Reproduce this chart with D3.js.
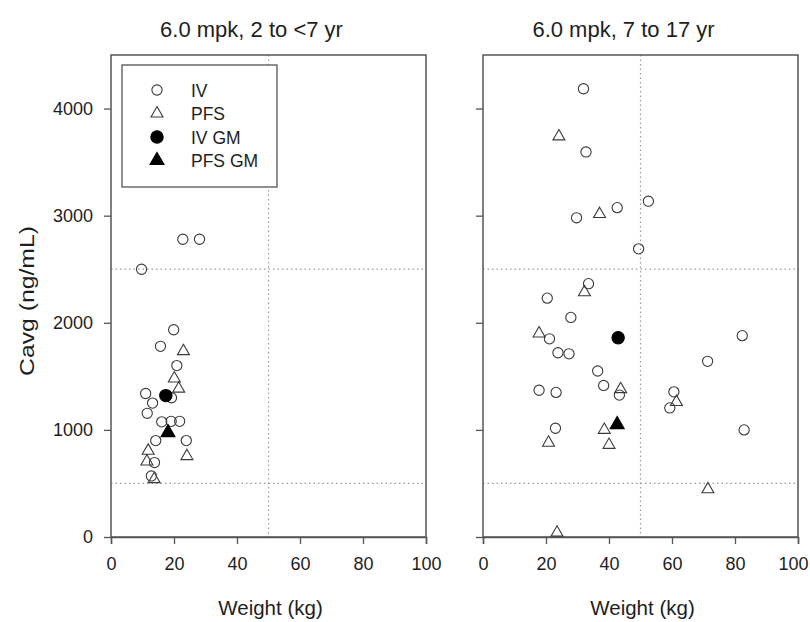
<!DOCTYPE html>
<html>
<head>
<meta charset="utf-8">
<script src="https://cdn.jsdelivr.net/npm/d3@7"></script>
<style>
  body { margin: 0; background: #fff; }
  svg { display: block; font-family: "Liberation Sans", Arial, sans-serif; }
</style>
</head>
<body>
<svg id="chart" width="810" height="622"></svg>
<script>
// Panel titles
const panelTitles = ["6.0 mpk, 2 to <7 yr", "6.0 mpk, 7 to 17 yr"];

// Axis ticks
const xTicks = [0, 20, 40, 60, 80, 100];
const yTicks = [0, 1000, 2000, 3000, 4000];

// Reference lines: weight cut-off and exposure bounds
const refWeight = 50;
const refCavg = [500, 2500];

// 2 to <7 yr: individual subjects [weight kg, Cavg ng/mL]
const ivYoung = [
  [22.8, 2780], [28.1, 2780], [9.7, 2500], [19.9, 1935], [15.7, 1780],
  [20.9, 1600], [11.0, 1340], [13.2, 1250], [11.5, 1155], [16.1, 1075],
  [19.1, 1080], [21.8, 1080], [14.2, 900], [23.9, 900], [13.8, 695],
  [12.8, 570], [19.2, 1300]
];
const pfsYoung = [
  [23.0, 1735], [20.1, 1480], [21.5, 1385], [11.8, 805], [11.4, 705],
  [24.1, 755], [13.7, 540]
];
const ivGmYoung = [[17.4, 1320]];
const pfsGmYoung = [[18.1, 975]];

// 7 to 17 yr: individual subjects [weight kg, Cavg ng/mL]
const ivOld = [
  [31.9, 4185], [32.7, 3595], [29.7, 2980], [42.6, 3075], [52.5, 3135],
  [49.4, 2690], [33.5, 2365], [20.4, 2230], [27.9, 2050], [21.1, 1850],
  [23.8, 1720], [27.3, 1710], [36.4, 1550], [38.3, 1415], [43.3, 1325],
  [17.8, 1370], [23.2, 1350], [23.0, 1015], [60.6, 1355], [59.3, 1205],
  [71.3, 1640], [82.3, 1880], [82.9, 1000]
];
const pfsOld = [
  [24.1, 3740], [37.0, 3015], [32.2, 2285], [17.8, 1900], [43.7, 1380],
  [38.5, 1000], [20.8, 880], [40.0, 860], [23.5, 40], [61.4, 1260],
  [71.4, 445]
];
const ivGmOld = [[42.9, 1860]];
const pfsGmOld = [[42.6, 1050]];

const panels = [
  { title: panelTitles[0], iv: ivYoung, pfs: pfsYoung, ivGm: ivGmYoung, pfsGm: pfsGmYoung, left: 111, showY: true },
  { title: panelTitles[1], iv: ivOld, pfs: pfsOld, ivGm: ivGmOld, pfsGm: pfsGmOld, left: 483, showY: false }
];

const svg = d3.select("#chart");
const plotW = 315, plotTop = 55, plotBottom = 537;
const axisColor = "#555";
const markStroke = "#3a3a3a";
const textColor = "#1e1e1e";

const y = d3.scaleLinear().domain([0, 4500]).range([plotBottom, plotTop]);

const circle = d3.symbol().type(d3.symbolCircle).size(82)();
const tri = d3.symbol().type(d3.symbolTriangle).size(62)();
const circleGm = d3.symbol().type(d3.symbolCircle).size(120)();
const triGm = d3.symbol().type(d3.symbolTriangle).size(85)();

panels.forEach((p, pi) => {
  const x = d3.scaleLinear().domain([0, 100]).range([p.left, p.left + plotW]);
  const g = svg.append("g");

  // reference lines
  g.append("line")
    .attr("x1", x(refWeight)).attr("x2", x(refWeight))
    .attr("y1", plotTop).attr("y2", plotBottom)
    .attr("stroke", "#9a9a9a").attr("stroke-width", 1.2)
    .attr("stroke-dasharray", "1.5,3");
  refCavg.forEach(v => {
    g.append("line")
      .attr("x1", x(0)).attr("x2", x(100))
      .attr("y1", y(v)).attr("y2", y(v))
      .attr("stroke", "#9a9a9a").attr("stroke-width", 1.2)
      .attr("stroke-dasharray", "1.5,3");
  });

  // frame
  g.append("rect")
    .attr("x", x(0)).attr("y", plotTop)
    .attr("width", plotW).attr("height", plotBottom - plotTop)
    .attr("fill", "none").attr("stroke", axisColor).attr("stroke-width", 1.5);

  // x axis
  const xa = g.append("g")
    .attr("transform", `translate(0,${plotBottom})`)
    .call(d3.axisBottom(x).tickValues(xTicks).tickSize(7).tickPadding(13).tickFormat(d3.format("d")));
  xa.select(".domain").attr("stroke", axisColor).attr("stroke-width", 1.5);
  xa.selectAll(".tick line").attr("stroke", axisColor).attr("stroke-width", 1.3);
  xa.selectAll("text").attr("font-size", 18).attr("fill", textColor);
  // keep the last label of the right panel inside the page
  if (pi === panels.length - 1) {
    xa.selectAll(".tick text").filter(d => d === 100).attr("dx", -5);
  }

  // y axis
  const ya = g.append("g")
    .attr("transform", `translate(${x(0)},0)`)
    .call(d3.axisLeft(y).tickValues(yTicks).tickSize(7).tickPadding(11)
      .tickFormat(p.showY ? d3.format("d") : () => ""));
  ya.select(".domain").remove();
  ya.selectAll(".tick line").attr("stroke", axisColor).attr("stroke-width", 1.3);
  ya.selectAll("text").attr("font-size", 18).attr("fill", textColor);

  // title
  g.append("text")
    .attr("x", x(50) - 17).attr("y", 37)
    .attr("text-anchor", "middle").attr("font-size", 22).attr("fill", textColor)
    .text(p.title);

  // x label
  g.append("text")
    .attr("x", x(50) + 2).attr("y", 615)
    .attr("text-anchor", "middle").attr("font-size", 20.5).attr("fill", textColor)
    .text("Weight (kg)");

  // marks
  const drawMarks = (data, path, fill) => {
    g.append("g").selectAll("path").data(data).join("path")
      .attr("d", path)
      .attr("transform", d => `translate(${x(d[0])},${y(d[1])})`)
      .attr("fill", fill)
      .attr("stroke", fill === "none" ? markStroke : "#000")
      .attr("stroke-width", 1.1);
  };
  drawMarks(p.iv, circle, "none");
  drawMarks(p.pfs, tri, "none");
  drawMarks(p.ivGm, circleGm, "#000");
  drawMarks(p.pfsGm, triGm, "#000");
});

// y label
svg.append("text")
  .attr("transform", "translate(34,301) rotate(-90)")
  .attr("text-anchor", "middle").attr("font-size", 20).attr("fill", textColor)
  .attr("textLength", 150).attr("lengthAdjust", "spacingAndGlyphs")
  .text("Cavg (ng/mL)");

// legend
const legendItems = [
  { label: "IV", path: circle, fill: "none" },
  { label: "PFS", path: tri, fill: "none" },
  { label: "IV GM", path: circleGm, fill: "#000" },
  { label: "PFS GM", path: triGm, fill: "#000" }
];
const lg = svg.append("g");
lg.append("rect")
  .attr("x", 122).attr("y", 65).attr("width", 155).attr("height", 122)
  .attr("fill", "#fff").attr("stroke", axisColor).attr("stroke-width", 1.3);
legendItems.forEach((it, i) => {
  const cy = 90 + i * 23.5;
  lg.append("path").attr("d", it.path)
    .attr("transform", `translate(157,${cy})`)
    .attr("fill", it.fill)
    .attr("stroke", it.fill === "none" ? markStroke : "#000")
    .attr("stroke-width", 1.1);
  lg.append("text")
    .attr("x", 191).attr("y", cy + 6.5)
    .attr("font-size", 17.5).attr("fill", textColor)
    .text(it.label);
});
</script>
</body>
</html>
